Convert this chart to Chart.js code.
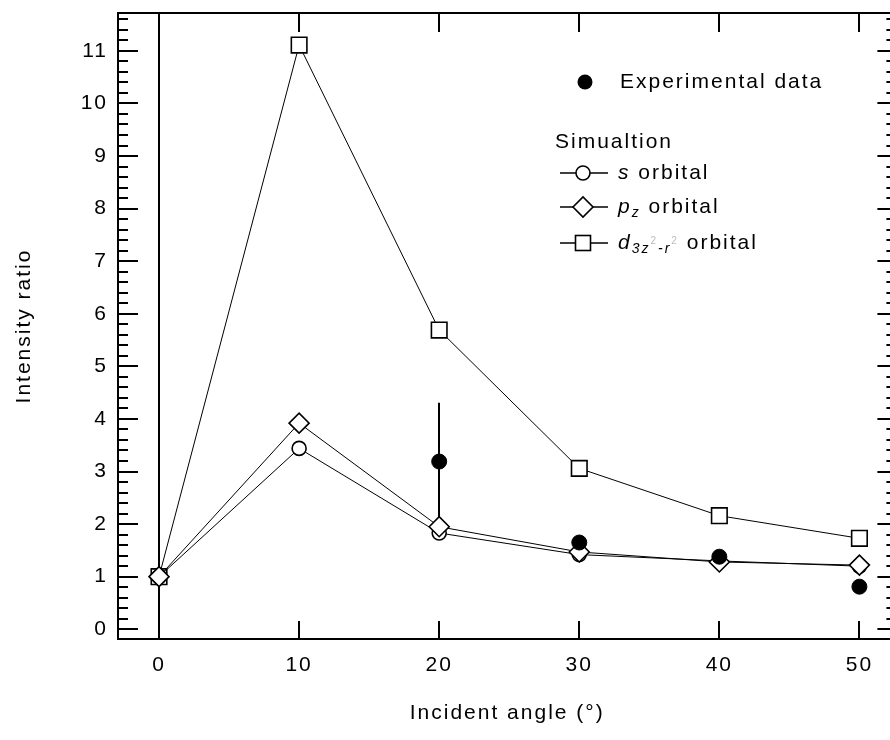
<!DOCTYPE html>
<html>
<head>
<meta charset="utf-8">
<script src="https://cdn.jsdelivr.net/npm/chart.js@4.4.1/dist/chart.umd.min.js"></script>
<style>
  html, body { margin: 0; padding: 0; background: #fff; overflow: hidden; }
  #wrap { width: 890px; height: 740px; overflow: hidden; }
  #box { width: 909px; height: 740px; }
</style>
</head>
<body>
<div id="wrap"><div id="box"><canvas id="ratio-chart" width="909" height="740"></canvas></div></div>
<script>
// values
const angles = [0, 10, 20, 30, 40, 50];
const sOrbital = [1.0, 3.44, 1.83, 1.42, 1.30, 1.20];
const pzOrbital = [1.0, 3.92, 1.95, 1.47, 1.28, 1.22];
const dOrbital = [1.0, 11.11, 5.69, 3.06, 2.16, 1.73];

const expAngles = [20, 30, 40, 50];
const expValues = [3.19, 1.65, 1.38, 0.81];
const expErrors = [1.12, 0, 0, 0];

const xTickStep = 10;
const yTickStep = 1;
const yMinorStep = 0.2;

const FONT = '"Liberation Sans", Arial, sans-serif';

function pts(xs, ys) {
  return xs.map((x, i) => ({ x: x, y: ys[i] }));
}

function simSet(label, values, style, radius) {
  return {
    label: label,
    data: pts(angles, values),
    borderColor: '#000',
    borderWidth: 1,
    pointStyle: style,
    pointRadius: radius,
    pointHoverRadius: radius,
    pointBackgroundColor: '#fff',
    pointBorderColor: '#000',
    pointBorderWidth: 1.6,
    tension: 0,
    fill: false
  };
}

const data = {
  datasets: [
    {
      label: 'Experimental data',
      data: pts(expAngles, expValues),
      showLine: false,
      pointStyle: 'circle',
      pointRadius: 7.5,
      pointBackgroundColor: '#000',
      pointBorderColor: '#000',
      pointBorderWidth: 1
    },
    simSet('pz orbital', pzOrbital, 'rectRot', 10),
    simSet('s orbital', sOrbital, 'circle', 7),
    simSet('d orbital', dOrbital, 'rect', 11)
  ]
};

// frame with inward ticks on all sides, minor ticks on y
const frameTicks = {
  id: 'frameTicks',
  beforeDatasetsDraw(chart) {
    const ctx = chart.ctx;
    const a = chart.chartArea;
    const xs = chart.scales.x;
    const ys = chart.scales.y;
    ctx.save();
    ctx.strokeStyle = '#000';
    ctx.lineWidth = 2;
    ctx.strokeRect(a.left, a.top, a.right - a.left, a.bottom - a.top);
    ctx.beginPath();
    ys.ticks.forEach(t => {
      const py = Math.round(ys.getPixelForValue(t.value));
      ctx.moveTo(a.left, py); ctx.lineTo(a.left + 20, py);
      ctx.moveTo(a.right, py); ctx.lineTo(a.right - 19, py);
    });
    const first = Math.ceil(ys.min / yMinorStep);
    const last = Math.floor(ys.max / yMinorStep);
    for (let k = first; k <= last; k++) {
      const v = k * yMinorStep;
      if (Math.abs(v - Math.round(v)) < 1e-6) continue;
      const py = Math.round(ys.getPixelForValue(v));
      ctx.moveTo(a.left, py); ctx.lineTo(a.left + 10, py);
      ctx.moveTo(a.right, py); ctx.lineTo(a.right - 10, py);
    }
    xs.ticks.forEach(t => {
      const px = Math.round(xs.getPixelForValue(t.value));
      ctx.moveTo(px, a.bottom); ctx.lineTo(px, a.bottom - 18);
      ctx.moveTo(px, a.top); ctx.lineTo(px, a.top + 19);
    });
    ctx.stroke();

    // error bars
    ctx.beginPath();
    expAngles.forEach((x, i) => {
      if (!expErrors[i]) return;
      const px = Math.round(xs.getPixelForValue(x));
      ctx.moveTo(px, ys.getPixelForValue(expValues[i] - expErrors[i]));
      ctx.lineTo(px, ys.getPixelForValue(expValues[i] + expErrors[i]));
    });
    ctx.stroke();
    ctx.restore();
  }
};

function textRun(ctx, parts, x, y) {
  parts.forEach(p => {
    ctx.font = p.font;
    ctx.fillStyle = p.color || '#000';
    ctx.fillText(p.text, x, y + (p.dy || 0));
    x += ctx.measureText(p.text).width;
  });
}

const legendBox = {
  id: 'legendBox',
  afterDraw(chart) {
    const ctx = chart.ctx;
    const reg = '21px ' + FONT;
    const ita = 'italic 21px ' + FONT;
    const sub = 'italic 14px ' + FONT;
    const sup = '10px ' + FONT;
    ctx.save();
    ctx.textBaseline = 'middle';
    ctx.textAlign = 'left';
    ctx.strokeStyle = '#000';

    ctx.fillStyle = '#000';
    ctx.beginPath(); ctx.arc(585, 82, 7.5, 0, Math.PI * 2); ctx.fill();
    textRun(ctx, [{ text: 'Experimental data', font: reg }], 620, 82);
    textRun(ctx, [{ text: 'Simualtion', font: reg }], 555, 142);

    const rows = [173, 207, 243];
    ctx.lineWidth = 1.6;
    rows.forEach(y => {
      ctx.beginPath(); ctx.moveTo(560, y); ctx.lineTo(608, y); ctx.stroke();
    });
    ctx.fillStyle = '#fff';
    ctx.beginPath(); ctx.arc(583, rows[0], 7, 0, Math.PI * 2); ctx.fill(); ctx.stroke();
    ctx.beginPath();
    ctx.moveTo(573, rows[1]); ctx.lineTo(583, rows[1] - 10); ctx.lineTo(593, rows[1]); ctx.lineTo(583, rows[1] + 10);
    ctx.closePath(); ctx.fill(); ctx.stroke();
    ctx.fillRect(575.5, rows[2] - 7.5, 15, 15); ctx.strokeRect(575.5, rows[2] - 7.5, 15, 15);

    textRun(ctx, [{ text: 's', font: ita }, { text: ' orbital', font: reg }], 618, rows[0]);
    textRun(ctx, [{ text: 'p', font: ita }, { text: 'z', font: sub, dy: 6 }, { text: ' orbital', font: reg }], 618, rows[1]);
    textRun(ctx, [
      { text: 'd', font: ita },
      { text: '3z', font: sub, dy: 6 },
      { text: '2', font: sup, dy: -2, color: '#bbb' },
      { text: '-r', font: sub, dy: 6 },
      { text: '2', font: sup, dy: -2, color: '#bbb' },
      { text: ' orbital', font: reg }
    ], 618, rows[2]);
    ctx.restore();
  }
};

const spacing = {
  id: 'spacing',
  beforeDraw(chart) { chart.ctx.letterSpacing = '2px'; }
};

function noPad(s) {
  s.paddingLeft = 0; s.paddingRight = 0; s.paddingTop = 0; s.paddingBottom = 0;
}

const config = {
  type: 'line',
  data: data,
  options: {
    responsive: false,
    animation: false,
    devicePixelRatio: 1,
    layout: { padding: { top: 13, right: 4, left: 0, bottom: 0 } },
    plugins: {
      legend: { display: false },
      tooltip: { enabled: false }
    },
    scales: {
      x: {
        type: 'linear',
        min: -2.93,
        max: 52.64,
        afterFit: s => { s.height = 101; noPad(s); },
        ticks: {
          stepSize: xTickStep,
          includeBounds: false,
          maxRotation: 0,
          padding: 14,
          color: '#000',
          font: { family: FONT, size: 21 }
        },
        grid: {
          drawTicks: false,
          lineWidth: 2,
          color: c => (c.tick && c.tick.value === 0 ? '#000' : 'rgba(0,0,0,0)')
        },
        border: { display: true, color: '#000', width: 2 },
        title: {
          display: true,
          text: 'Incident angle (°)',
          color: '#000',
          font: { family: FONT, size: 21 },
          padding: { top: 0, bottom: 14 }
        }
      },
      y: {
        min: -0.185,
        max: 11.72,
        afterFit: s => { s.width = 118; noPad(s); },
        ticks: {
          stepSize: yTickStep,
          includeBounds: false,
          padding: 10,
          color: '#000',
          font: { family: FONT, size: 21 }
        },
        grid: { display: false, drawTicks: false },
        border: { display: true, color: '#000', width: 2 },
        title: {
          display: true,
          text: 'Intensity ratio',
          color: '#000',
          font: { family: FONT, size: 21 },
          padding: { top: 12, bottom: 0 }
        }
      }
    }
  },
  plugins: [spacing, frameTicks, legendBox]
};

const ctx = document.getElementById('ratio-chart').getContext('2d');
const chart = new Chart(ctx, config);
</script>
</body>
</html>
